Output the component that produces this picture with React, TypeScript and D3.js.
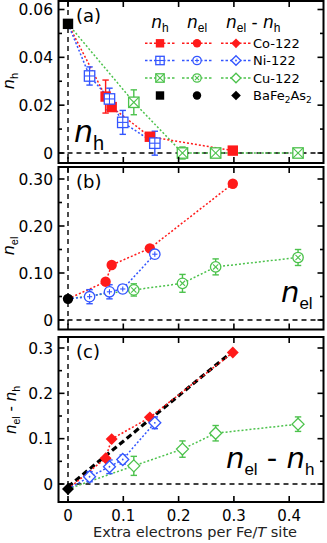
import * as d3 from "d3";

// extra electrons per Fe/T site
const xCo = [0.068, 0.079, 0.148, 0.298];
const xNi = [0.039, 0.075, 0.099, 0.157];
const xCu = [0.119, 0.207, 0.267, 0.416];

// parent compound BaFe2As2 (x = 0)
const base = { nh: 0.054, nel: 0.045, diff: -0.011 };

// n_h
const nhCo = [0.0236, 0.0192, 0.0068, 0.001];
const nhCoErr = [0.0069, 0, 0, 0];
const nhNi = [0.0322, 0.0226, 0.0128, 0.0041];
const nhNiErr = [0.0038, 0.0045, 0.005, 0.005];
const nhCu = [0.0212, 0, 0, 0];
const nhCuErr = [0.0052, 0.0025, 0, 0];

// n_el
const nelCo = [0.0815, 0.117, 0.1525, 0.29];
const nelNi = [0.0496, 0.06, 0.066, 0.14];
const nelNiErr = [0.015, 0.015, 0.009, 0.008];
const nelCu = [0.064, 0.078, 0.113, 0.133];
const nelCuErr = [0.013, 0.019, 0.017, 0.017];

// n_el - n_h
const diffCo = [0.057, 0.099, 0.147, 0.29];
const diffNi = [0.016, 0.038, 0.054, 0.135];
const diffNiErr = [0.011, 0.015, 0.01, 0.013];
const diffCu = [0.04, 0.077, 0.112, 0.132];
const diffCuErr = [0.021, 0.018, 0.017, 0.016];

// guide line in (c)
const guideX = [0, 0.295];
const guideY = [-0.006, 0.29];

const xTicks = [0, 0.1, 0.2, 0.3, 0.4];
const xTickLabels = ["0", "0.1", "0.2", "0.3", "0.4"];

const RED = "#ff1a1a";
const BLUE = "#3355ff";
const GREEN = "#4cc24c";
const FONT = "DejaVu Sans, Liberation Sans, sans-serif";
const SUBFONT = "Liberation Sans, Arial, sans-serif";

const W = 327;
const H = 543;
const left = 58.5;
const right = 323.5;

const x = d3.scaleLinear().domain([0, 0.4]).range([68, 289.2]);

type Style = "fill" | "plus" | "cross" | "dot" | "open";
type Shape = "square" | "circle" | "diamond";

function Marker({ shape, style, color, cx, cy, s }: { shape: Shape; style: Style; color: string; cx: number; cy: number; s: number }) {
  const filled = style === "fill";
  const common = { fill: filled ? color : "#fff", stroke: color, strokeWidth: filled ? 0 : 1.3 };
  const h = s / 2;
  const inner: any[] = [];
  if (shape === "square") {
    if (style === "plus") {
      inner.push(<line key="a" x1={cx - h} x2={cx + h} y1={cy} y2={cy} stroke={color} strokeWidth={1.1} />);
      inner.push(<line key="b" x1={cx} x2={cx} y1={cy - h} y2={cy + h} stroke={color} strokeWidth={1.1} />);
    } else if (style === "cross") {
      inner.push(<line key="a" x1={cx - h} x2={cx + h} y1={cy - h} y2={cy + h} stroke={color} strokeWidth={1.1} />);
      inner.push(<line key="b" x1={cx - h} x2={cx + h} y1={cy + h} y2={cy - h} stroke={color} strokeWidth={1.1} />);
    }
    return (
      <g>
        <rect x={cx - h} y={cy - h} width={s} height={s} {...common} />
        {inner}
      </g>
    );
  }
  if (shape === "circle") {
    const r = h;
    const k = r * 0.5;
    if (style === "plus") {
      inner.push(<line key="a" x1={cx - k} x2={cx + k} y1={cy} y2={cy} stroke={color} strokeWidth={1.1} />);
      inner.push(<line key="b" x1={cx} x2={cx} y1={cy - k} y2={cy + k} stroke={color} strokeWidth={1.1} />);
    } else if (style === "cross") {
      inner.push(<line key="a" x1={cx - k} x2={cx + k} y1={cy - k} y2={cy + k} stroke={color} strokeWidth={1.1} />);
      inner.push(<line key="b" x1={cx - k} x2={cx + k} y1={cy + k} y2={cy - k} stroke={color} strokeWidth={1.1} />);
    }
    return (
      <g>
        <circle cx={cx} cy={cy} r={r} {...common} />
        {inner}
      </g>
    );
  }
  const d = h * 1.15;
  if (style === "dot") inner.push(<circle key="a" cx={cx} cy={cy} r={0.9} fill={color} />);
  return (
    <g>
      <path d={`M${cx},${cy - d}L${cx + d},${cy}L${cx},${cy + d}L${cx - d},${cy}Z`} {...common} />
      {inner}
    </g>
  );
}

type Series = { xs: number[]; ys: number[]; err?: number[]; color: string; style: Style };

function Panel({
  top, bottom, y, majors, labels, minors, shape, baseVal, series, tag, guide,
}: {
  top: number; bottom: number; y: d3.ScaleLinear<number, number>; majors: number[]; labels: string[];
  minors: number[]; shape: Shape; baseVal: number; series: Series[]; tag: string; guide?: boolean;
}) {
  const line = d3.line<[number, number]>().x((d) => x(d[0])).y((d) => y(d[1]));
  const size = 10.4;
  return (
    <g>
      {/* zero lines */}
      <line x1={left} x2={right} y1={y(0)} y2={y(0)} stroke="#000" strokeWidth={1.4} strokeDasharray="5,4" />
      <line x1={x(0)} x2={x(0)} y1={top} y2={bottom} stroke="#000" strokeWidth={1.4} strokeDasharray="5,4" />
      {guide && (
        <path d={line(guideX.map((g, i) => [g, guideY[i]]) as [number, number][]) || ""} stroke="#000" strokeWidth={3.2} strokeDasharray="6,3.5" fill="none" />
      )}
      {series.map((s, i) => (
        <path key={"l" + i} d={line([[0, baseVal], ...s.xs.map((v, j) => [v, s.ys[j]] as [number, number])]) || ""}
          stroke={s.color} strokeWidth={1.5} strokeDasharray="2,2" fill="none" />
      ))}
      {series.map((s, i) =>
        (s.err || []).map((e, j) =>
          e > 0 ? (
            <g key={"e" + i + "-" + j} stroke={s.color} strokeWidth={1.4}>
              <line x1={x(s.xs[j])} x2={x(s.xs[j])} y1={y(s.ys[j] - e)} y2={y(s.ys[j] + e)} />
              <line x1={x(s.xs[j]) - 3.2} x2={x(s.xs[j]) + 3.2} y1={y(s.ys[j] - e)} y2={y(s.ys[j] - e)} />
              <line x1={x(s.xs[j]) - 3.2} x2={x(s.xs[j]) + 3.2} y1={y(s.ys[j] + e)} y2={y(s.ys[j] + e)} />
            </g>
          ) : null
        )
      )}
      {series.map((s, i) =>
        s.xs.map((v, j) => (
          <Marker key={"m" + i + "-" + j} shape={shape} style={s.style} color={s.color} cx={x(v)} cy={y(s.ys[j])} s={size} />
        ))
      )}
      <Marker shape={shape} style="fill" color="#000" cx={x(0)} cy={y(baseVal)} s={size} />
      {/* frame */}
      <rect x={left} y={top} width={right - left} height={bottom - top} fill="none" stroke="#000" strokeWidth={2} />
      {majors.map((t, i) => (
        <g key={"yt" + i}>
          <line x1={left} x2={left + 6} y1={y(t)} y2={y(t)} stroke="#000" strokeWidth={1.6} />
          <line x1={right} x2={right - 6} y1={y(t)} y2={y(t)} stroke="#000" strokeWidth={1.6} />
          <text x={53} y={y(t)} dy="0.36em" textAnchor="end" fontSize={15.5} fontFamily={FONT}>{labels[i]}</text>
        </g>
      ))}
      {minors.map((t, i) => (
        <g key={"ym" + i}>
          <line x1={left} x2={left + 3.5} y1={y(t)} y2={y(t)} stroke="#000" strokeWidth={1.6} />
          <line x1={right} x2={right - 3.5} y1={y(t)} y2={y(t)} stroke="#000" strokeWidth={1.6} />
        </g>
      ))}
      {xTicks.map((t, i) => (
        <g key={"xt" + i}>
          <line x1={x(t)} x2={x(t)} y1={top} y2={top + 6} stroke="#000" strokeWidth={1.6} />
          <line x1={x(t)} x2={x(t)} y1={bottom} y2={bottom - 6} stroke="#000" strokeWidth={1.6} />
        </g>
      ))}
      <text x={76} y={top + 21} fontSize={18} fontFamily={FONT}>{tag}</text>
    </g>
  );
}

// italic symbol with an upright subscript
function Sym({ main, sub, size, sub2 }: { main: string; sub: string; size: number; sub2?: number }) {
  const ss = sub2 || size * 0.68;
  return [
    <tspan key="m" fontStyle="italic">{main}</tspan>,
    <tspan key="s" fontSize={ss} fontFamily={SUBFONT} dy={size * 0.25}>{sub}</tspan>,
  ];
}

function Diff({ size, sub2 }: { size: number; sub2?: number }) {
  return [
    ...Sym({ main: "n", sub: "el", size, sub2 }),
    <tspan key="d" dy={-size * 0.25}> - </tspan>,
    <tspan key="m2" fontStyle="italic">n</tspan>,
    <tspan key="s2" fontSize={sub2 || size * 0.68} fontFamily={SUBFONT} dy={size * 0.25}>h</tspan>,
  ];
}

export default function App() {
  const ya = d3.scaleLinear().domain([0, 0.06]).range([153, 9.5]);
  const yb = d3.scaleLinear().domain([0, 0.3]).range([320, 179]);
  const yc = d3.scaleLinear().domain([0, 0.3]).range([484, 348]);

  const legendRows = [
    { name: "Co-122", color: RED, styles: ["fill", "fill", "fill"] as Style[] },
    { name: "Ni-122", color: BLUE, styles: ["plus", "plus", "dot"] as Style[] },
    { name: "Cu-122", color: GREEN, styles: ["cross", "cross", "open"] as Style[] },
  ];
  const legCols = [160, 197, 236];
  const legShapes: Shape[] = ["square", "circle", "diamond"];
  const legY = [43.3, 60.5, 78, 95.5];

  return (
    <svg width={W} height={H} style={{ position: "absolute", left: 0, top: 0, background: "#fff" }}>
      <Panel top={1} bottom={163} y={ya} majors={[0, 0.02, 0.04, 0.06]} labels={["0", "0.02", "0.04", "0.06"]}
        minors={[0.01, 0.03, 0.05]} shape="square" baseVal={base.nh} tag="(a)"
        series={[
          { xs: xCu, ys: nhCu, err: nhCuErr, color: GREEN, style: "cross" },
          { xs: xCo, ys: nhCo, err: nhCoErr, color: RED, style: "fill" },
          { xs: xNi, ys: nhNi, err: nhNiErr, color: BLUE, style: "plus" },
        ]} />
      <Panel top={167} bottom={329.5} y={yb} majors={[0, 0.1, 0.2, 0.3]} labels={["0", "0.10", "0.20", "0.30"]}
        minors={[0.05, 0.15, 0.25]} shape="circle" baseVal={base.nel} tag="(b)"
        series={[
          { xs: xCu, ys: nelCu, err: nelCuErr, color: GREEN, style: "cross" },
          { xs: xCo, ys: nelCo, color: RED, style: "fill" },
          { xs: xNi, ys: nelNi, err: nelNiErr, color: BLUE, style: "plus" },
        ]} />
      <Panel top={337} bottom={502} y={yc} majors={[0, 0.1, 0.2, 0.3]} labels={["0", "0.1", "0.2", "0.3"]}
        minors={[0.05, 0.15, 0.25]} shape="diamond" baseVal={base.diff} tag="(c)" guide
        series={[
          { xs: xCu, ys: diffCu, err: diffCuErr, color: GREEN, style: "open" },
          { xs: xCo, ys: diffCo, color: RED, style: "fill" },
          { xs: xNi, ys: diffNi, err: diffNiErr, color: BLUE, style: "dot" },
        ]} />

      {/* legend */}
      <g fontFamily={FONT} fontSize={13}>
        <text x={legCols[0]} y={28} textAnchor="middle" fontSize={17}>{Sym({ main: "n", sub: "h", size: 17, sub2: 12 })}</text>
        <text x={legCols[1]} y={28} textAnchor="middle" fontSize={17}>{Sym({ main: "n", sub: "el", size: 17, sub2: 12 })}</text>
        <text x={226} y={28} fontSize={17}>{Diff({ size: 17, sub2: 12 })}</text>
        {legendRows.map((r, i) => (
          <g key={r.name}>
            {legCols.map((c, j) => (
              <g key={j}>
                <line x1={c - 15} x2={c + 15} y1={legY[i]} y2={legY[i]} stroke={r.color} strokeWidth={1.4} strokeDasharray="2.5,2" />
                <Marker shape={legShapes[j]} style={r.styles[j]} color={r.color} cx={c} cy={legY[i]} s={8.4} />
              </g>
            ))}
            <text x={253} y={legY[i]} dy="0.36em">{r.name}</text>
          </g>
        ))}
        {legCols.map((c, j) => (
          <Marker key={j} shape={legShapes[j]} style="fill" color="#000" cx={c} cy={legY[3]} s={8.4} />
        ))}
        <text x={253} y={legY[3]} dy="0.36em">
          BaFe<tspan fontSize={9} dy={3}>2</tspan><tspan dy={-3}>As</tspan><tspan fontSize={9} dy={3}>2</tspan>
        </text>
      </g>

      {/* big in-panel labels */}
      <g fontFamily={FONT}>
        <text x={74} y={142} fontSize={30}>{Sym({ main: "n", sub: "h", size: 30, sub2: 20 })}</text>
        <text x={281} y={302} fontSize={29}>{Sym({ main: "n", sub: "el", size: 29, sub2: 17 })}</text>
        <text x={226} y={468} fontSize={29}>{Diff({ size: 29, sub2: 17 })}</text>
      </g>

      {/* y axis titles */}
      <g fontFamily={FONT} fontSize={16}>
        <text transform="translate(14,81) rotate(-90)" textAnchor="middle">{Sym({ main: "n", sub: "h", size: 16, sub2: 11 })}</text>
        <text transform="translate(14,246) rotate(-90)" textAnchor="middle">{Sym({ main: "n", sub: "el", size: 16, sub2: 11 })}</text>
        <text transform="translate(16,410) rotate(-90)" textAnchor="middle" fontSize={15}>{Diff({ size: 15, sub2: 10.5 })}</text>
      </g>

      {/* x axis */}
      {xTicks.map((t, i) => (
        <text key={i} x={x(t)} y={515.5} dy="0.36em" textAnchor="middle" fontSize={15} fontFamily={FONT}>{xTickLabels[i]}</text>
      ))}
      <text x={195} y={537} textAnchor="middle" fontSize={14.5} fontFamily={FONT} fill="#222">
        Extra electrons per Fe/<tspan fontStyle="italic">T</tspan> site
      </text>
    </svg>
  );
}
